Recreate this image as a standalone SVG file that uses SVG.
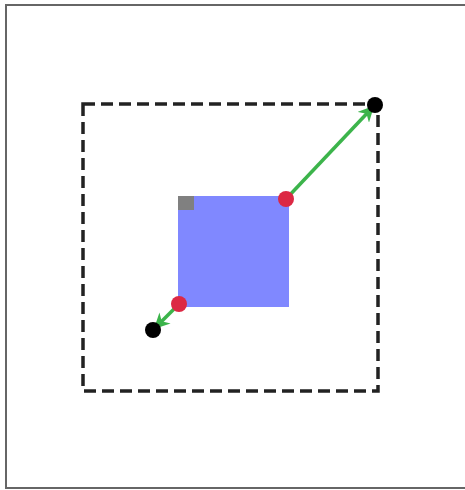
<svg xmlns="http://www.w3.org/2000/svg" width="465" height="490" viewBox="0 0 465 490">
<style>
.frame{fill:#fff;stroke:#666;stroke-width:2}
.bound{fill:none;stroke:#222;stroke-width:3.5;stroke-dasharray:12,6}
.vec{stroke:#3cb44b;stroke-width:3.5;fill:none}
.handle{fill:#dc2844}
.pt{fill:#000}
</style>
<defs>
<marker id="ah" viewBox="0 0 10 10" refX="9" refY="5" markerWidth="4.5" markerHeight="4.5" orient="auto" markerUnits="strokeWidth">
<path d="M0,0 L10,5 L0,10 L3,5 Z" fill="#3cb44b"/>
</marker>
</defs>
<rect class="frame" x="6" y="5" width="470" height="483"/>
<g id="bounds"><rect class="bound" x="83" y="104" width="295" height="287"/></g>
<g id="box">
<rect x="178" y="196" width="111" height="111" fill="#8088ff"/>
<rect x="178" y="196" width="16" height="14" fill="#808080"/>
</g>
<g id="connectors">
<line class="vec" x1="286" y1="199" x2="373" y2="107" marker-end="url(#ah)"/>
<line class="vec" x1="179" y1="304" x2="155" y2="328" marker-end="url(#ah)"/>
</g>
<g id="handle-tr"><circle class="handle" cx="286" cy="199" r="8"/></g>
<g id="handle-bl"><circle class="handle" cx="179" cy="304" r="8"/></g>
<g id="point-tr"><circle class="pt" cx="375" cy="105" r="8"/></g>
<g id="point-bl"><circle class="pt" cx="153" cy="330" r="8"/></g>
</svg>
